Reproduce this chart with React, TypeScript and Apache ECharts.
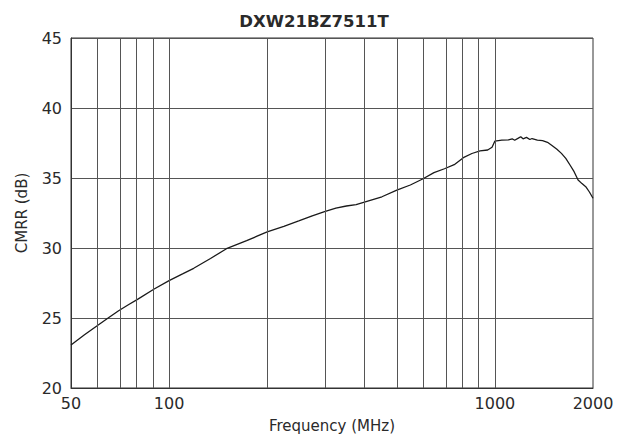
import React, { useEffect, useRef } from "react";
import * as echarts from "echarts";

const freqMHz = [50, 55, 60, 65, 70, 75, 80, 90, 100, 110, 119, 134, 150, 173, 187, 200, 225, 250, 275, 300, 325, 350, 375, 400, 450, 500, 550, 600, 650, 700, 750, 800, 850, 900, 950, 980, 1000, 1050, 1100, 1130, 1150, 1180, 1200, 1220, 1250, 1280, 1300, 1350, 1400, 1450, 1500, 1550, 1600, 1650, 1700, 1750, 1800, 1850, 1900, 1950, 2000];
const cmrrDb = [23.07, 23.8, 24.43, 25.0, 25.52, 25.95, 26.33, 27.07, 27.67, 28.15, 28.55, 29.25, 29.95, 30.52, 30.86, 31.15, 31.55, 31.93, 32.3, 32.6, 32.85, 33.0, 33.1, 33.3, 33.66, 34.14, 34.5, 34.93, 35.38, 35.66, 35.95, 36.45, 36.75, 36.93, 37.0, 37.2, 37.64, 37.7, 37.72, 37.8, 37.7, 37.85, 37.95, 37.8, 37.9, 37.75, 37.82, 37.7, 37.67, 37.55, 37.3, 37.05, 36.76, 36.4, 35.93, 35.45, 34.86, 34.6, 34.38, 34.0, 33.55];
const gridFreqs = [60, 70, 80, 90, 100, 200, 300, 400, 500, 600, 700, 800, 900, 1000];
const labelFreqs = [50, 100, 1000, 2000];
const yTicks = [20, 25, 30, 35, 40, 45];

export default function App() {
  const ref = useRef<HTMLDivElement>(null);
  useEffect(() => {
    if (!ref.current) return;
    const chart = echarts.init(ref.current, null, { renderer: "svg" });
    const font = "DejaVu Sans";
    const txt = "#2a2a2a";
    chart.setOption({
      animation: false,
      backgroundColor: "#ffffff",
      title: {
        text: "DXW21BZ7511T",
        left: "center",
        top: 8,
        textStyle: { fontFamily: font, fontWeight: "bold", fontSize: 16.5, color: txt },
      },
      grid: {
        left: 71, right: 35, top: 38, bottom: 46,
        show: true, borderColor: "#333", borderWidth: 1,
        containLabel: false, outerBoundsMode: "none",
      },
      xAxis: {
        type: "value",
        min: Math.log10(50),
        max: Math.log10(2000),
        name: "Frequency (MHz)",
        nameLocation: "middle",
        nameGap: 30,
        nameTextStyle: { fontFamily: font, fontSize: 15, color: txt },
        axisLine: { show: true, lineStyle: { color: "#333" } },
        axisTick: { show: false },
        splitLine: { show: false },
        axisLabel: {
          customValues: labelFreqs.map((f) => Math.log10(f)),
          formatter: (v: number) => String(Math.round(Math.pow(10, v))),
          fontFamily: font,
          fontSize: 16,
          color: txt,
          margin: 7,
        },
      },
      yAxis: {
        type: "value",
        min: 20,
        max: 45,
        interval: 5,
        name: "CMRR (dB)",
        nameLocation: "middle",
        nameGap: 42,
        nameTextStyle: { fontFamily: font, fontSize: 15, color: txt },
        axisLine: { show: true, lineStyle: { color: "#333" } },
        axisTick: { show: false },
        splitLine: { show: true, lineStyle: { color: "#555", width: 1 } },
        axisLabel: {
          formatter: (v: number) => (yTicks.includes(v) ? String(v) : ""),
          fontFamily: font,
          fontSize: 16,
          color: txt,
          margin: 9,
        },
      },
      series: [
        {
          type: "line",
          data: freqMHz.map((f, i) => [Math.log10(f), cmrrDb[i]]),
          showSymbol: false,
          lineStyle: { color: "#1a1a1a", width: 1.3 },
          markLine: {
            silent: true,
            symbol: "none",
            label: { show: false },
            lineStyle: { color: "#555", width: 1, type: "solid" },
            data: gridFreqs.map((f) => ({ xAxis: Math.log10(f) })),
          },
          z: 3,
        },
      ],
    });
    return () => chart.dispose();
  }, []);
  return <div ref={ref} style={{ position: "fixed", left: 0, top: 0, width: 628, height: 434 }} />;
}
